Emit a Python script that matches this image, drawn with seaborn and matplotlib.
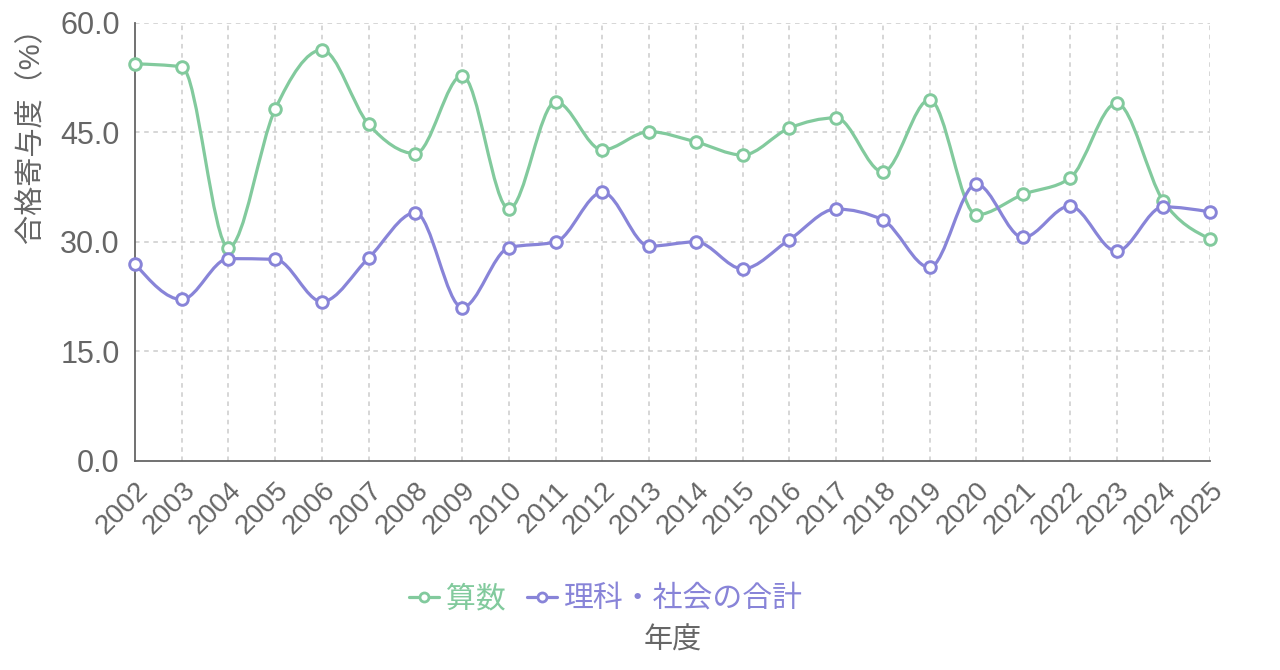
import numpy as np
import pandas as pd
import matplotlib
matplotlib.use("Agg")
import matplotlib.pyplot as plt
import seaborn as sns
from matplotlib.path import Path
from matplotlib.patches import PathPatch
from matplotlib.lines import Line2D


years = list(range(2002, 2026))
math_vals = [54.4, 54.0, 29.2, 48.2, 56.3, 46.1, 42.1, 52.8, 34.5, 49.2, 42.6, 45.1,
             43.7, 41.9, 45.6, 47.0, 39.6, 49.5, 33.7, 36.5, 38.7, 49.0, 35.6, 30.4]
sci_soc_vals = [27.0, 22.1, 27.7, 27.6, 21.8, 27.8, 34.0, 21.0, 29.2, 30.0, 36.8, 29.4,
                30.0, 26.3, 30.3, 34.5, 33.0, 26.5, 37.9, 30.6, 34.9, 28.7, 34.8, 34.1]
series_names = ["算数", "理科・社会の合計"]
colors = ["#82ca9d", "#8884d8"]
y_ticks = [0, 15, 30, 45, 60]


#d3 style monotone-x curve, returns a bezier path through the points
def monotone_path(x, y):
    x = np.asarray(x, float)
    y = np.asarray(y, float)
    n = len(x)
    h = np.diff(x)
    s = np.diff(y) / h
    t = np.zeros(n)
    for i in range(1, n - 1):
        p = (s[i - 1] * h[i] + s[i] * h[i - 1]) / (h[i - 1] + h[i])
        t[i] = (np.sign(s[i - 1]) + np.sign(s[i])) * min(abs(s[i - 1]), abs(s[i]), 0.5 * abs(p))
    t[0] = (3 * s[0] - t[1]) / 2
    t[-1] = (3 * s[-1] - t[-2]) / 2
    verts = [(x[0], y[0])]
    codes = [Path.MOVETO]
    for i in range(n - 1):
        dx = h[i] / 3
        verts += [(x[i] + dx, y[i] + dx * t[i]), (x[i + 1] - dx, y[i + 1] - dx * t[i + 1]), (x[i + 1], y[i + 1])]
        codes += [Path.CURVE4] * 3
    return Path(verts, codes)


def main():
    sns.set_style("white")
    plt.rcParams['font.family'] = ['Liberation Sans', 'Noto Sans CJK JP', 'DejaVu Sans']

    frame = pd.DataFrame({
        '年度': years * 2,
        'value': math_vals + sci_soc_vals,
        'series': [series_names[0]] * len(years) + [series_names[1]] * len(years),
    })

    fig = plt.figure(figsize=(12.8, 6.7), dpi=100)
    ax = fig.add_axes([135 / 1280, 1 - 460.7 / 670, 1075 / 1280, 437.7 / 670])

    ax.set_xlim(2002, 2025)
    ax.set_ylim(0, 60)

    #grid
    grid_color = "#cccccc"
    for yt in y_ticks[1:]:
        ax.axhline(yt, color=grid_color, lw=1.1, ls=(0, (3, 3)), zorder=0)
    for yr in years[1:]:
        ax.axvline(yr, color=grid_color, lw=1.1, ls=(0, (3, 3)), zorder=0)

    for name, color in zip(series_names, colors):
        sub = frame[frame['series'] == name]
        patch = PathPatch(monotone_path(sub['年度'], sub['value']), facecolor='none',
                          edgecolor=color, lw=2.3, zorder=3, clip_on=False)
        ax.add_patch(patch)
        sns.scatterplot(x='年度', y='value', data=sub, ax=ax, color='white', edgecolor=color,
                        s=70, linewidth=2.1, zorder=4, clip_on=False, legend=False)

    axis_color = "#666666"
    for side in ['top', 'right']:
        ax.spines[side].set_visible(False)
    for side in ['left', 'bottom']:
        ax.spines[side].set_color(axis_color)
        ax.spines[side].set_linewidth(1.3)

    ax.set_yticks(y_ticks)
    ax.set_yticklabels([f"{v:.1f}" for v in y_ticks])
    ax.set_xticks(years)
    ax.set_xticklabels([str(yr) for yr in years], rotation=45, ha='right', rotation_mode='anchor')
    ax.tick_params(axis='y', labelsize=22, colors=axis_color, length=7, width=1.3, pad=4)
    ax.tick_params(axis='x', labelsize=20, colors=axis_color, length=7, width=1.3, pad=5)

    ax.set_ylabel("合格寄与度（%）", fontsize=21, color=axis_color)
    ax.yaxis.label.set_va('center')
    ax.yaxis.set_label_coords(-0.097, 0.76)
    ax.set_xlabel("年度", fontsize=21, color=axis_color)
    ax.xaxis.set_label_coords(0.5, -0.38)

    handles = [Line2D([0], [0], color=c, lw=2.3, marker='o', markersize=6.5,
                      markerfacecolor='white', markeredgewidth=2.0) for c in colors]
    leg = ax.legend(handles, series_names, loc='center', bbox_to_anchor=(606 / 1280, 1 - 599 / 670),
                    bbox_transform=fig.transFigure, ncol=2, frameon=False, fontsize=21.5,
                    handlelength=1.0, handletextpad=0.25, columnspacing=0.7)
    for text, c in zip(leg.get_texts(), colors):
        text.set_color(c)

    fig.savefig("out.png", dpi=100, facecolor='white')


main()
